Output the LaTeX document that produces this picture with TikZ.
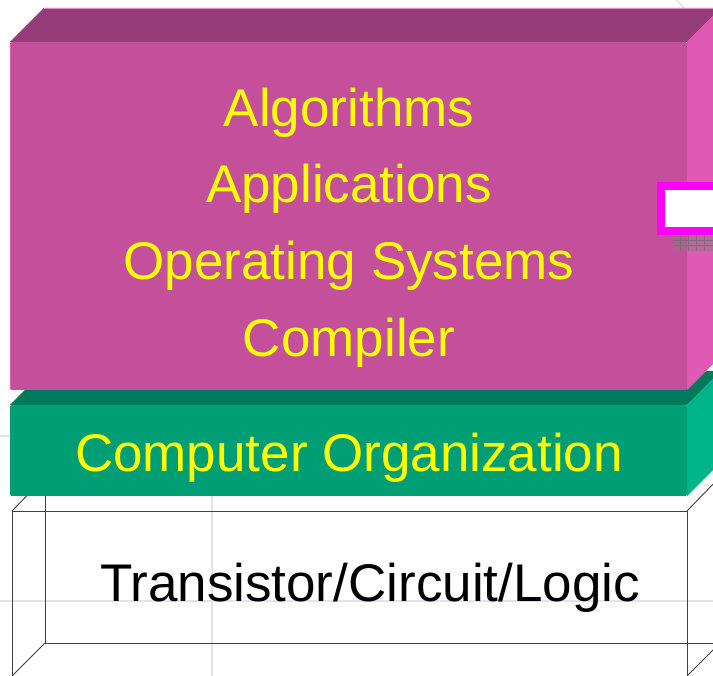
\documentclass[tikz,border=0pt]{standalone}
\usepackage{fontspec}
\setmainfont{Liberation Sans}
\begin{document}
\begin{tikzpicture}[x=1pt,y=-1pt,
  layertext/.style={anchor=base,inner sep=0pt,font=\fontsize{53}{60}\selectfont},
  wire/.style={draw=black!75,line width=0.9pt},
  guide/.style={draw=guidecol,line width=1.4pt}]
\definecolor{pinkfront}{HTML}{C44F9A}
\definecolor{pinktop}{HTML}{963C78}
\definecolor{pinkside}{HTML}{E05AB4}
\definecolor{greenfront}{HTML}{009E74}
\definecolor{greentop}{HTML}{007A5A}
\definecolor{greenside}{HTML}{00B48A}
\definecolor{guidecol}{HTML}{E4E2F2}
\definecolor{txtyellow}{HTML}{FFFF00}
\definecolor{framemag}{HTML}{FF00FF}
\useasboundingbox (0,0) rectangle (713,676);
\clip (0,0) rectangle (713,676);
\fill[white] (0,0) rectangle (713,676);

% faint background guide lines
\draw[guide] (0,601) -- (713,601);
\draw[guide] (212,480) -- (212,676);
\draw[guide] (0,436) -- (12,436);
\draw[guide] (676,0) to[bend left=10] (684,9);

% bottom layer: wireframe box
\coordinate (wfl) at (12,511);
\coordinate (wfr) at (687,511);
\coordinate (wbl) at (12,676);
\coordinate (wbr) at (687,676);
\coordinate (bfl) at (45,477);
\coordinate (bfr) at (720,477);
\coordinate (bbl) at (45,643);
\coordinate (bbr) at (720,643);
\draw[wire] (bfl) -- (bbl) -- (bbr) -- (bfr);
\draw[wire] (wfl) -- (wfr) -- (wbr) -- (wbl) -- cycle;
\draw[wire] (wfl) -- (bfl) (wfr) -- (bfr) (wbl) -- (bbl) (wbr) -- (bbr);
\node[layertext,text=black] (tcl) at (370,601) {Transistor/Circuit/Logic};

% middle layer: green box
\fill[greentop] (10,405) -- (44,371) -- (721,371) -- (687,405) -- cycle;
\fill[greenside] (687,405) -- (721,371) -- (721,462) -- (687,496) -- cycle;
\fill[greenfront,rounded corners=2pt] (10,405) rectangle (687,496);
\node[layertext,text=txtyellow] (org) at (349,472) {Computer Organization};

% top layer: pink box
\fill[pinktop] (10,42) -- (44,8) -- (721,8) -- (687,42) -- cycle;
\draw[pinkside!70,line width=0.8pt] (44,8.4) -- (721,8.4);
\fill[pinkside] (687,42) -- (721,8) -- (721,356) -- (687,390) -- cycle;
\fill[pinkfront,rounded corners=2pt] (10,42) rectangle (687,390);
\draw[pinkside,line width=0.8pt] (10.4,44) -- (10.4,388);
\node[layertext,text=txtyellow] (alg) at (349,127) {Algorithms};
\node[layertext,text=txtyellow] (app) at (349,203) {Applications};
\node[layertext,text=txtyellow] (os)  at (349,280) {Operating Systems};
\node[layertext,text=txtyellow] (cmp) at (349,357) {Compiler};

% small framed box on the right edge
\draw[draw=framemag,fill=white,line width=8pt] (661,186) rectangle (724,231);
\fill[gray,opacity=0.45] (673,235) rectangle (713,251);
\draw[gray!80!black,opacity=0.5,line width=0.4pt]
  (673,240) -- (713,240) (673,245) -- (713,245)
  (680,235) -- (680,251) (688,235) -- (688,251) (696,235) -- (696,251) (704,235) -- (704,251);
\end{tikzpicture}
\end{document}
